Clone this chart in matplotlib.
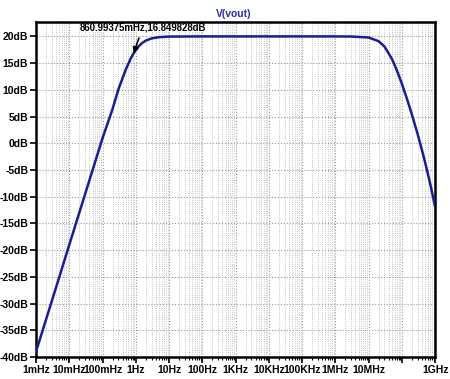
import matplotlib
matplotlib.use("Agg")
import matplotlib.pyplot as plt
from matplotlib.ticker import LogLocator, FixedLocator, NullFormatter

plt.rcParams.update({
    'font.family': ['Liberation Sans', 'DejaVu Sans'],
    'font.size': 7.5,
    'font.weight': 'bold',
})

# values (frequency in Hz, magnitude in dB)
freq_hz = [1e-3, 3e-3, 1e-2, 3e-2, 0.1, 0.2, 0.3, 0.5, 0.7, 0.861, 1.2, 1.5, 2, 3, 5, 10,
           100, 1e3, 1e4, 1e5, 1e6, 3e6, 1e7, 2e7, 3e7, 5e7, 7e7, 1e8, 1.5e8, 2e8,
           3e8, 4e8, 5e8, 7e8, 1e9]
mag_db = [-39.0, -29.5, -19.0, -9.5, 0.96, 6.4, 10.09, 13.8, 15.82, 16.85, 18.1, 18.69, 19.22, 19.63, 19.86, 19.97,
          20.0, 20.0, 20.0, 20.0, 20.0, 19.98, 19.8, 19.1, 18.1, 15.8, 13.72, 11.14, 7.87, 5.38,
          1.64, -1.24, -3.61, -7.4, -11.9]

x_ticks = [1e-3, 1e-2, 1e-1, 1, 10, 100, 1e3, 1e4, 1e5, 1e6, 1e7, 1e8, 1e9]
x_labels = ['1mHz', '10mHz', '100mHz', '1Hz', '10Hz', '100Hz', '1KHz', '10KHz',
            '100KHz', '1MHz', '10MHz', '', '1GHz']
y_ticks = [-40, -35, -30, -25, -20, -15, -10, -5, 0, 5, 10, 15, 20]
y_labels = [f'{v}dB' for v in y_ticks]

marker_f = 0.86099375
marker_db = 16.849828

fig = plt.figure(figsize=(4.5, 3.79), dpi=100)
ax = fig.add_axes([0.08, 0.058, 0.887, 0.884])

ax.plot(freq_hz, mag_db, color='#1c1c8e', lw=1.8, zorder=3)

ax.set_xscale('log')
ax.set_xlim(1e-3, 1e9)
ax.set_ylim(-40, 22.7)

ax.xaxis.set_major_locator(FixedLocator(x_ticks))
ax.set_xticklabels(x_labels)
ax.xaxis.set_minor_locator(LogLocator(base=10, subs=range(2, 10), numticks=100))
ax.xaxis.set_minor_formatter(NullFormatter())
ax.set_yticks(y_ticks)
ax.set_yticklabels(y_labels)

ax.tick_params(axis='both', which='major', direction='out', length=4, width=1.2, pad=1.5)
ax.tick_params(axis='x', which='minor', direction='out', length=2, width=0.8)

ax.grid(True, which='major', color='#9a9a9a', ls=':', lw=0.8)
ax.grid(True, which='minor', axis='x', color='#b0b0b0', ls=':', lw=0.6)

for s in ax.spines.values():
    s.set_linewidth(1.8)
    s.set_color('black')

fig.text(0.52, 0.962, 'V(vout)', color='#2a2aa0', ha='center', va='center',
         fontsize=7.5, fontweight='bold')

ax.annotate('860.99375mHz,16.849828dB', xy=(marker_f, marker_db),
            xytext=(6.4, 18.4), textcoords='offset points', ha='center', va='center',
            fontsize=6.9, fontweight='bold',
            arrowprops=dict(arrowstyle='-|>', color='black', lw=1.2,
                            shrinkA=2, shrinkB=0, mutation_scale=8))

fig.savefig('out.png', dpi=100)
